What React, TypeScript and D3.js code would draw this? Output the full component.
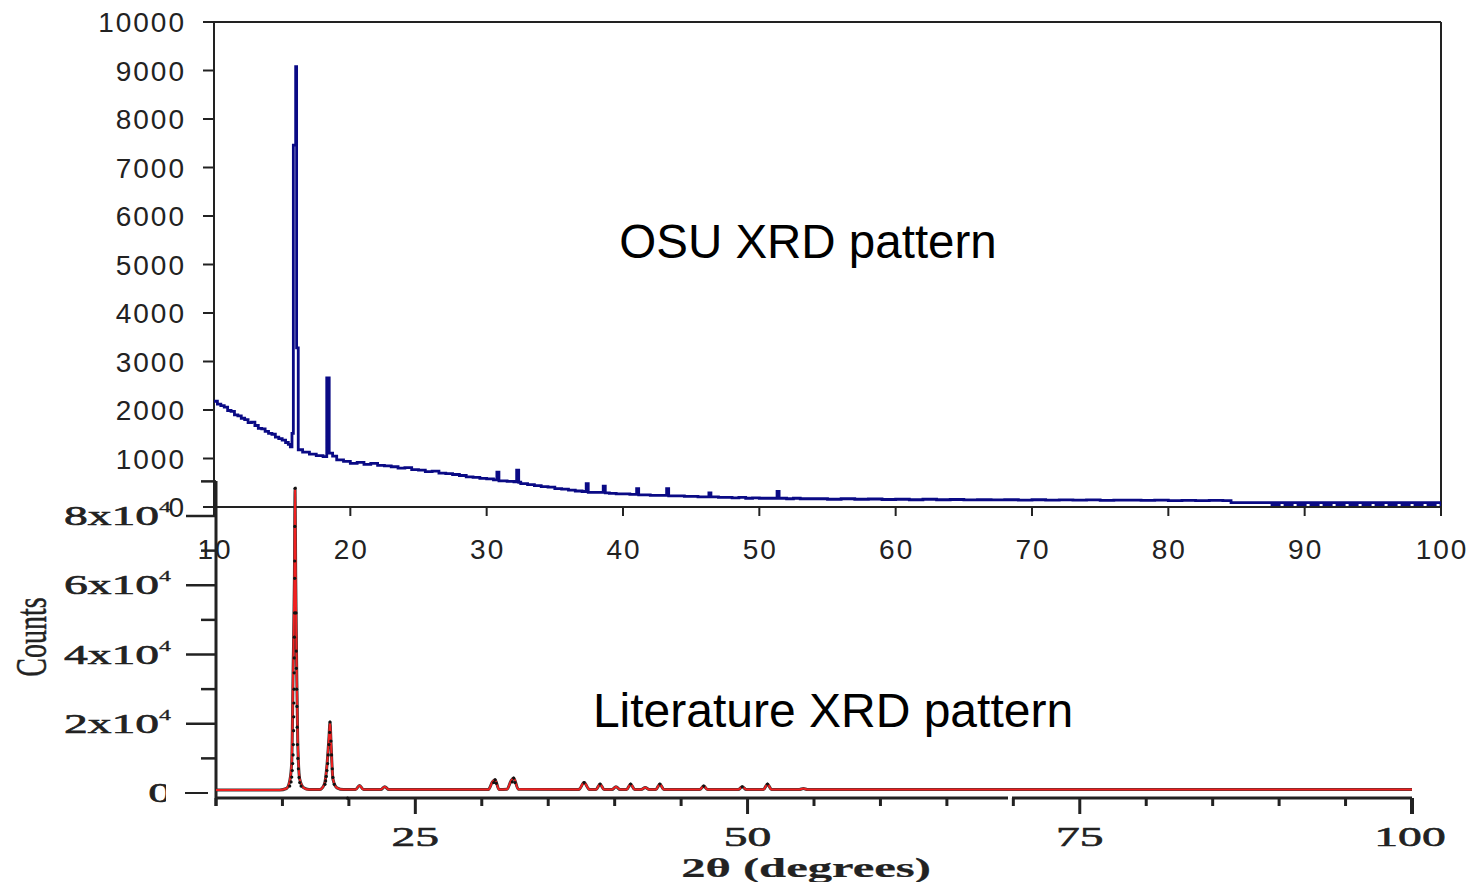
import React from 'react';
import * as d3 from 'd3';

// ---- OSU measured pattern (2θ in degrees, counts) ----
const osuTheta = [
  10.0, 10.25, 10.5, 10.75, 11.0, 11.25, 11.5, 11.75, 12.0, 12.25, 12.5, 12.75, 13.0, 13.25, 13.5, 13.75, 14.0,
  14.25, 14.5, 14.75, 15.0, 15.25, 15.45, 15.6, 15.72, 15.82, 15.99, 16.06, 16.18,
  16.5, 17.0, 17.5, 18.0, 18.27, 18.45, 18.7, 19.0, 19.5, 20.0, 20.5, 21.0, 21.5, 22.0, 22.5, 23.0, 23.5, 24.0,
  24.5, 25.0, 25.5, 26.0, 26.5, 27.0, 27.5, 28.0, 28.5, 29.0, 29.5, 30.0, 30.5, 30.75, 30.9, 31.5, 32.0, 32.2,
  32.35, 32.5, 33.0, 33.5, 34.0, 34.5, 35.0, 35.5, 36.0, 36.5, 37.0, 37.3, 37.45, 38.0, 38.55, 38.7, 39.0, 39.5,
  40.0, 40.5, 41.0, 41.15, 41.5, 42.0, 42.5, 43.2, 43.35, 44.0, 44.5, 45.0, 45.5, 46.3, 46.45, 47.0, 47.5, 48.0,
  48.5, 49.0, 49.5, 50.0, 50.5, 51.3, 51.45, 52.0, 52.5, 53.0, 54.0, 55.0, 56.0, 57.0, 58.0, 59.0, 60.0, 61.0,
  62.0, 63.0, 64.0, 65.0, 66.0, 67.0, 68.0, 69.0, 70.0, 71.0, 72.0, 73.0, 74.0, 75.0, 76.0, 77.0, 78.0, 79.0,
  80.0, 81.0, 82.0, 83.0, 84.0, 84.6, 100.0,
];
const osuCounts = [
  2180, 2120, 2090, 2060, 1990, 1970, 1900, 1880, 1830, 1800, 1740, 1750, 1680, 1620, 1610, 1560, 1520,
  1500, 1440, 1410, 1380, 1330, 1290, 1240, 1520, 7460, 9080, 3280, 1180,
  1130, 1090, 1060, 1040, 2660, 1110, 1050, 970, 940, 900, 920, 880, 900, 860, 850, 830, 800, 810,
  770, 760, 730, 740, 700, 690, 670, 650, 620, 610, 590, 580, 560, 720, 540, 530, 520, 760,
  510, 480, 460, 440, 420, 410, 380, 370, 350, 330, 320, 480, 300, 300, 430, 290, 280, 270,
  270, 260, 380, 250, 250, 240, 240, 380, 230, 230, 220, 220, 210, 290, 210, 200, 200, 190,
  200, 180, 190, 180, 180, 320, 180, 170, 180, 170, 170, 160, 170, 160, 165, 155, 160, 150,
  160, 150, 155, 145, 150, 145, 150, 140, 150, 140, 145, 140, 145, 135, 140, 140, 135, 140,
  130, 135, 130, 135, 130, 90, 90,
];
const osuTailTheta = [87.5, 100];
const osuTailCounts = [45, 45];

// ---- Literature pattern: calculated profile (red) ----
const litTheta = [
  10, 14.8, 15.3, 15.55, 15.7, 15.8, 15.9, 15.95, 16.0, 16.07, 16.15, 16.3, 16.6, 17.0, 17.8, 18.15, 18.35, 18.5,
  18.58, 18.66, 18.8, 19.1, 19.6, 20.5, 20.8, 21.1, 22.4, 22.7, 23.0, 30.5, 30.8, 31.0, 31.3, 31.9, 32.2, 32.4,
  32.75, 37.3, 37.7, 38.1, 38.6, 38.9, 39.2, 39.8, 40.1, 40.4, 40.9, 41.2, 41.5, 42.0, 42.3, 42.6, 43.1, 43.4,
  43.7, 46.4, 46.7, 47.0, 49.3, 49.6, 49.9, 51.2, 51.5, 51.8, 53.9, 54.2, 54.5, 100,
];
const litCounts = [
  900, 900, 1300, 3500, 9000, 35000, 62000, 88000, 62000, 36500, 15000, 4000, 1500, 1000, 1000, 2500, 8000, 16000,
  20500, 14000, 4000, 1500, 1000, 1000, 2200, 1000, 1000, 1800, 1000, 1000, 3200, 3800, 1000, 1100, 3500, 4300,
  1100, 1000, 3000, 1000, 1000, 2600, 1000, 1000, 1800, 1000, 1000, 2600, 1000, 1000, 1600, 1000, 1000, 2600,
  1000, 1000, 2000, 1000, 1000, 1800, 1000, 1000, 2600, 1000, 1000, 1300, 1000, 1000,
];

// ---- Literature pattern: observed points (black) ----
const obsTheta = [
  15.95, 15.93, 15.92, 15.92, 15.91, 15.9, 15.89, 15.88, 15.87, 15.86, 15.85, 15.84, 15.82, 15.8, 15.77, 15.74,
  15.7, 15.65, 15.55, 16.02, 16.04, 16.05, 16.07, 16.09, 16.11, 16.13, 16.16, 16.2, 16.25, 16.3, 16.4,
  18.58, 18.55, 18.5, 18.45, 18.4, 18.35, 18.3, 18.25, 18.2, 18.65, 18.7, 18.75, 18.8, 18.9,
  19.9, 30.9, 31.0, 31.1, 32.3, 32.4, 32.5, 37.7, 38.9, 41.2, 43.4, 46.7, 49.6, 51.5,
];
const obsCounts = [
  88000, 77000, 67000, 62000, 52000, 45000, 39000, 34700, 30000, 26000, 22000, 18000, 14000, 11000, 8500, 6500,
  4600, 3200, 2000, 52000, 41000, 36000, 30000, 25000, 19000, 14000, 10000, 7000, 4500, 3000, 2000,
  20500, 17500, 14000, 11000, 8500, 6500, 4800, 3500, 2500, 15000, 11000, 7000, 4500, 2500,
  -1500, 3000, 3800, 2800, 3200, 4300, 3000, 3000, 2600, 2600, 2600, 2000, 1800, 2600,
];

// ---- Axis ticks ----
const topYTicks = [0, 1000, 2000, 3000, 4000, 5000, 6000, 7000, 8000, 9000, 10000];
const topXTicks = [10, 20, 30, 40, 50, 60, 70, 80, 90, 100];
const botYMajor = [20000, 40000, 60000, 80000];
const botYMantissa = ['2', '4', '6', '8'];
const botYMinor = [10000, 30000, 50000, 70000, 90000];
const botXMajor = [25, 50, 75, 100];
const botXMinor = [10, 15, 20, 30, 35, 40, 45, 55, 60, 65, 70, 80, 85, 90, 95];

const SANS = '"Liberation Sans", Arial, sans-serif';
const SERIF = '"Liberation Serif", "Times New Roman", serif';
const AXIS = '#222';
const STRETCH = 1.7;

export default function App() {
  // upper panel scales
  const xT = d3.scaleLinear().domain([10, 100]).range([214, 1441]);
  const yT = d3.scaleLinear().domain([0, 10000]).range([507, 22]);
  // lower panel scales
  const xB = d3.scaleLinear().domain([10, 100]).range([216, 1412]);
  const yB = d3.scaleLinear().domain([0, 80000]).range([793, 516]);

  const osuLine = d3
    .line<number>()
    .x((_, i) => xT(osuTheta[i]))
    .y((d) => yT(d))
    .curve(d3.curveStepAfter);
  const osuTail = d3
    .line<number>()
    .x((_, i) => xT(osuTailTheta[i]))
    .y((d) => yT(d));
  const litLine = d3
    .line<number>()
    .x((_, i) => xB(litTheta[i]))
    .y((d) => yB(d))
    .curve(d3.curveMonotoneX);

  const serifText = {
    fontFamily: SERIF,
    fill: '#222',
    stroke: '#222',
    strokeWidth: 0.6,
  } as const;

  return (
    <svg
      width={1468}
      height={882}
      style={{ position: 'absolute', left: 0, top: 0, background: '#fff' }}
    >
      <defs>
        <clipPath id="zeroClip">
          <rect x={0} y={760} width={166} height={60} />
        </clipPath>
      </defs>

      {/* ===== Upper panel: OSU pattern ===== */}
      <g>
        <line x1={214} x2={1441} y1={22} y2={22} stroke={AXIS} strokeWidth={2} />
        <line x1={1441} x2={1441} y1={22} y2={515} stroke={AXIS} strokeWidth={2} />
        <line x1={214} x2={214} y1={22} y2={507} stroke={AXIS} strokeWidth={2} />
        <line x1={203} x2={1441} y1={507} y2={507} stroke={AXIS} strokeWidth={2} />
        {topYTicks.map((t) => (
          <g key={'ty' + t}>
            <line x1={203} x2={214} y1={yT(t)} y2={yT(t)} stroke={AXIS} strokeWidth={2} />
            <text
              x={186}
              y={yT(t) + 10}
              textAnchor="end"
              fontFamily={SANS}
              fontSize={28}
              letterSpacing={2}
              fill="#222"
            >
              {t}
            </text>
          </g>
        ))}
        {topXTicks.map((t) => (
          <g key={'tx' + t}>
            <line x1={xT(t)} x2={xT(t)} y1={507} y2={516} stroke={AXIS} strokeWidth={2} />
            <text
              x={xT(t) + 1}
              y={559}
              textAnchor="middle"
              fontFamily={SANS}
              fontSize={28}
              letterSpacing={2}
              fill="#222"
            >
              {t}
            </text>
          </g>
        ))}
        <path d={osuLine(osuCounts) || ''} fill="none" stroke="#0a0a85" strokeWidth={2.8} />
        <path
          d={osuTail(osuTailCounts) || ''}
          fill="none"
          stroke="#0a0a85"
          strokeWidth={2.5}
          strokeDasharray="10 3"
        />
        <text x={808} y={258} textAnchor="middle" fontFamily={SANS} fontSize={47.5} fill="#000">
          OSU XRD pattern
        </text>
      </g>

      {/* ===== Lower panel: literature pattern ===== */}
      <g>
        <line x1={216} x2={216} y1={481} y2={806} stroke={AXIS} strokeWidth={3} />
        <line x1={216} x2={1008} y1={798} y2={798} stroke={AXIS} strokeWidth={3} />
        <line x1={1012} x2={1412} y1={798} y2={798} stroke={AXIS} strokeWidth={3} />
        <line x1={185} x2={208} y1={yB(0)} y2={yB(0)} stroke={AXIS} strokeWidth={2} />
        {botYMajor.map((t) => (
          <line key={'bym' + t} x1={186} x2={216} y1={yB(t)} y2={yB(t)} stroke={AXIS} strokeWidth={2.5} />
        ))}
        {botYMinor.map((t) => (
          <line key={'byn' + t} x1={201} x2={216} y1={yB(t)} y2={yB(t)} stroke={AXIS} strokeWidth={2.5} />
        ))}
        {botYMajor.map((t, i) => (
          <g key={'byl' + t} transform={`translate(171,${yB(t) + 9}) scale(${STRETCH},1)`}>
            <text textAnchor="end" fontSize={28} {...serifText}>
              {botYMantissa[i]}x10
              <tspan fontSize={14} dy={-13} strokeWidth={0.3}>
                4
              </tspan>
            </text>
          </g>
        ))}
        <g clipPath="url(#zeroClip)">
          <g transform={`translate(172,${yB(0) + 9}) scale(${STRETCH},1)`}>
            <text textAnchor="end" fontSize={28} {...serifText}>
              0
            </text>
          </g>
        </g>
        {botXMinor.map((t) => (
          <line key={'bxn' + t} x1={xB(t)} x2={xB(t)} y1={798} y2={806} stroke={AXIS} strokeWidth={3} />
        ))}
        {botXMajor.map((t) => (
          <g key={'bxm' + t}>
            <line x1={xB(t)} x2={xB(t)} y1={798} y2={814} stroke={AXIS} strokeWidth={t === 100 ? 4 : 3} />
            <g transform={`translate(${xB(t) - (t === 100 ? 2 : 0)},846) scale(${STRETCH},1)`}>
              <text textAnchor="middle" fontSize={28} {...serifText}>
                {t}
              </text>
            </g>
          </g>
        ))}
        <g transform={`translate(806,877) scale(1.8,1)`}>
          <text textAnchor="middle" fontWeight="bold" fontSize={27} {...serifText} strokeWidth={0.2}>
            2θ (degrees)
          </text>
        </g>
        <g transform={`translate(46,637) scale(${STRETCH * 0.95},1) rotate(-90)`}>
          <text textAnchor="middle" fontSize={28} {...serifText} strokeWidth={0.3}>
            Counts
          </text>
        </g>

        <path d={litLine(litCounts) || ''} fill="none" stroke="#333" strokeWidth={3} />
        <path d={litLine(litCounts) || ''} fill="none" stroke="#f02020" strokeWidth={2} />
        {obsCounts.map((c, i) => (
          <circle key={'ob' + i} cx={xB(obsTheta[i])} cy={yB(c)} r={1.6} fill="#111" />
        ))}
        <text x={833} y={727} textAnchor="middle" fontFamily={SANS} fontSize={48} fill="#000">
          Literature XRD pattern
        </text>
      </g>
    </svg>
  );
}
